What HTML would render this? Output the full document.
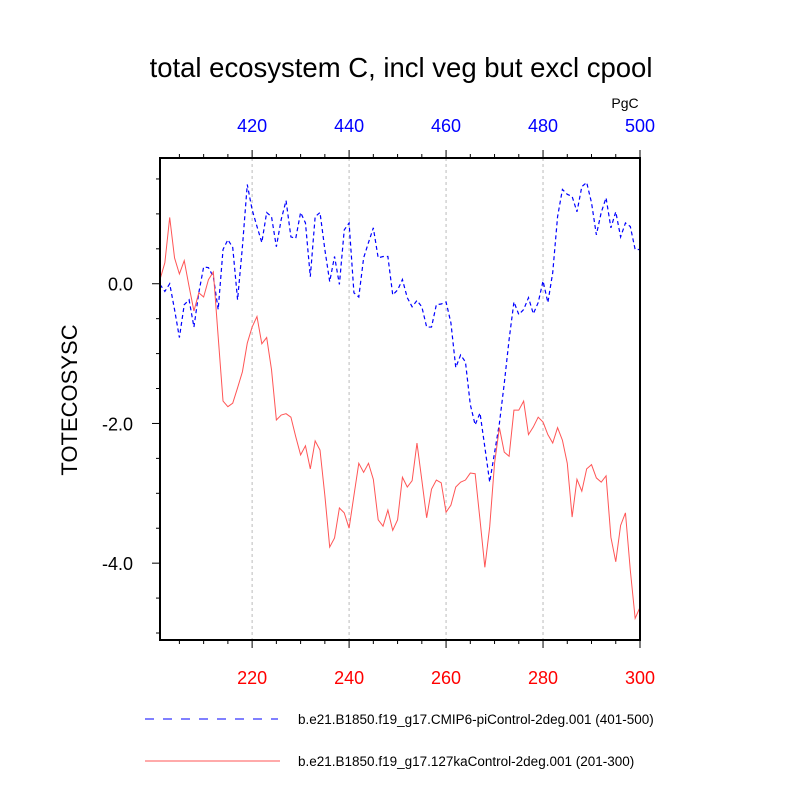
<!DOCTYPE html>
<html><head><meta charset="utf-8"><style>
body{margin:0;background:#fff;}
svg{display:block;font-family:"Liberation Sans",sans-serif;}
</style></head><body>
<svg id="c" width="800" height="800"></svg>
<script>
const redYears = Array.from({length:100},(_, i)=>201+i);
const redValues = [0.06,0.30,0.95,0.37,0.14,0.33,-0.04,-0.39,-0.13,-0.19,
0.06,0.17,-0.76,-1.68,-1.76,-1.71,-1.49,-1.26,-0.85,-0.62,
-0.47,-0.86,-0.77,-1.23,-1.95,-1.88,-1.86,-1.91,-2.19,-2.45,
-2.32,-2.65,-2.25,-2.38,-3.03,-3.77,-3.64,-3.21,-3.28,-3.50,
-3.03,-2.57,-2.70,-2.57,-2.80,-3.38,-3.47,-3.24,-3.53,-3.38,
-2.77,-2.91,-2.82,-2.28,-2.81,-3.35,-2.94,-2.81,-2.85,-3.27,
-3.17,-2.91,-2.84,-2.81,-2.71,-2.72,-3.38,-4.06,-3.48,-2.57,
-2.06,-2.41,-2.47,-1.81,-1.81,-1.68,-2.16,-2.05,-1.91,-1.98,
-2.16,-2.28,-2.06,-2.24,-2.57,-3.34,-2.80,-2.97,-2.65,-2.59,
-2.78,-2.84,-2.75,-3.63,-3.98,-3.46,-3.28,-4.10,-4.79,-4.63];
const blueValues = [-0.01,-0.11,0.00,-0.37,-0.77,-0.30,-0.23,-0.62,-0.13,0.24,
0.23,0.10,-0.37,0.49,0.63,0.52,-0.23,0.53,1.42,1.06,
0.82,0.59,1.02,0.96,0.53,0.92,1.19,0.67,0.65,1.02,
0.87,0.10,0.96,1.02,0.49,0.03,0.39,-0.01,0.77,0.87,
-0.13,-0.19,0.37,0.59,0.80,0.37,0.39,0.39,-0.16,-0.09,
0.06,-0.20,-0.33,-0.24,-0.33,-0.62,-0.62,-0.30,-0.29,-0.26,
-0.56,-1.20,-1.02,-1.12,-1.73,-2.02,-1.85,-2.34,-2.84,-2.42,
-2.00,-1.43,-0.80,-0.26,-0.44,-0.37,-0.20,-0.43,-0.27,0.04,
-0.27,0.16,0.96,1.35,1.28,1.25,1.03,1.39,1.45,1.16,
0.70,1.02,1.23,0.80,1.03,0.67,0.87,0.82,0.49,0.49];
const bottomTicks = [220,240,260,280,300];
const topTickLabels = ["420","440","460","480","500"];
const yTicks = [0,-2,-4];
const yTickLabels = ["0.0","-2.0","-4.0"];

const L=160,R=640,T=158,B=640,XMIN=201,XMAX=300,YMIN=-5.1,YMAX=1.8;
const X=v=>L+(v-XMIN)/(XMAX-XMIN)*(R-L);
const Y=v=>T+(YMAX-v)/(YMAX-YMIN)*(B-T);
const svg=document.getElementById('c');
const NS='http://www.w3.org/2000/svg';
function mk(tag,attrs,parent){const e=document.createElementNS(NS,tag);for(const k in attrs)e.setAttribute(k,attrs[k]);(parent||svg).appendChild(e);return e;}
function txt(s,attrs){const e=mk('text',attrs);e.textContent=s;return e;}

let t=txt('total ecosystem C, incl veg but excl cpool',{x:401,y:77,'font-size':27.5,'text-anchor':'middle'});


t=txt('PgC',{x:625,y:108,'font-size':14,'text-anchor':'middle'});


t=txt('TOTECOSYSC',{x:0,y:0,'font-size':22,'text-anchor':'middle',transform:'translate(77,400) rotate(-90)'});



bottomTicks.slice(0,4).forEach(v=>{
  const g=mk('line',{x1:X(v),x2:X(v),y1:T,y2:B,stroke:'#bbb','stroke-width':1,'stroke-dasharray':'3,3'});
  
  
});
for(let v=205;v<=300;v+=5){
  const major=v%20===0;
  const l=major?8:4;
  mk('line',{x1:X(v),x2:X(v),y1:B,y2:B+l,stroke:'#000','stroke-width':1});
  mk('line',{x1:X(v),x2:X(v),y1:T,y2:T-l,stroke:'#000','stroke-width':1});
}
for(let v=-5;v<=1.5;v+=0.5){
  const major=Math.abs(v%2)<1e-9;
  mk('line',{x1:L,x2:L-(major?8:4),y1:Y(v),y2:Y(v),stroke:'#000','stroke-width':1});
}
bottomTicks.forEach((v,i)=>{
  let e=txt(String(v),{x:X(v),y:684,'font-size':18,'text-anchor':'middle',fill:'#f00'});
  
  
  e=txt(topTickLabels[i],{x:X(v),y:132,'font-size':18,'text-anchor':'middle',fill:'#00f'});
  
  
});
yTicks.forEach((v,i)=>{
  const e=txt(yTickLabels[i],{x:133,y:Y(v)+7,'font-size':18,'text-anchor':'end'});
  
  
});
const pb=mk('polyline',{points:blueValues.map((v,i)=>X(redYears[i])+','+Y(v)).join(' '),fill:'none',stroke:'#00f','stroke-width':1.2,'stroke-dasharray':'4,3'});


const pr=mk('polyline',{points:redValues.map((v,i)=>X(redYears[i])+','+Y(v)).join(' '),fill:'none',stroke:'#f55','stroke-width':1});


const fr=mk('rect',{x:L,y:T,width:R-L,height:B-T,fill:'none',stroke:'#000','stroke-width':2});


let le=mk('line',{x1:145,x2:278,y1:719,y2:719,stroke:'#00f','stroke-width':1,'stroke-dasharray':'9,9'});


le=txt('b.e21.B1850.f19_g17.CMIP6-piControl-2deg.001 (401-500)',{x:298,y:724,'font-size':13.5});


le=mk('line',{x1:145,x2:280,y1:761,y2:761,stroke:'#f55','stroke-width':1});


le=txt('b.e21.B1850.f19_g17.127kaControl-2deg.001 (201-300)',{x:298,y:766,'font-size':13.5});


</script>
</body></html>
